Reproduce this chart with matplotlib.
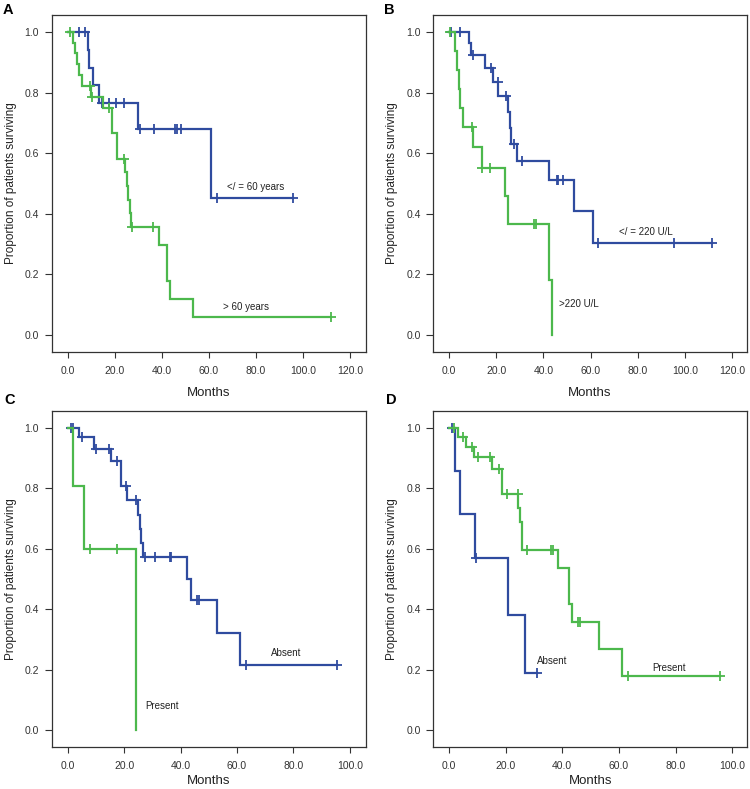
import matplotlib
matplotlib.use("Agg")
import matplotlib.pyplot as plt
import numpy as np

plt.rcParams['font.family'] = ['Liberation Sans', 'DejaVu Sans']

BLUE = '#2f4b9f'
GREEN = '#4cb84c'

# ---------------- Panel A: age ----------------
A_blue_t = [8.6, 9.2, 10.9, 13.3, 29.7, 60.8]
A_blue_s = [0.941, 0.882, 0.824, 0.765, 0.680, 0.453]
A_blue_c = [5.0, 7.2, 14.4, 17.4, 20.5, 23.9, 30.9, 36.7, 45.7, 46.4, 48.2, 63.3, 95.6]
A_green_t = [2.1, 3.2, 3.9, 4.6, 5.9, 9.9, 15.2, 18.8, 20.8, 24.4, 25.1, 25.7, 26.3, 26.9, 38.8, 42.1, 43.6, 53.3]
A_green_s = [0.964, 0.929, 0.893, 0.857, 0.821, 0.785, 0.749, 0.665, 0.580, 0.536, 0.491, 0.446, 0.401, 0.357, 0.297, 0.178, 0.119, 0.059]
A_green_c = [1.1, 9.4, 10.4, 17.6, 24.1, 27.2, 36.1, 111.9]
A_labels = ['</ = 60 years', '> 60 years']
A_label_xy = [(80.0, 0.489), (75.8, 0.093)]

# ---------------- Panel B: LDH ----------------
B_blue_t = [8.5, 9.2, 15.2, 18.8, 20.9, 25.1, 25.8, 26.4, 28.9, 42.4, 53.2, 61.0]
B_blue_s = [0.962, 0.923, 0.881, 0.836, 0.790, 0.736, 0.683, 0.631, 0.575, 0.511, 0.409, 0.305]
B_blue_c = [0.7, 4.8, 10.3, 17.7, 20.6, 24.1, 27.4, 30.9, 45.7, 46.3, 48.2, 63.1, 95.3, 111.7]
B_green_t = [2.5, 3.4, 4.1, 4.8, 6.0, 10.2, 14.0, 23.6, 25.1, 42.3, 43.5]
B_green_s = [0.938, 0.875, 0.813, 0.750, 0.687, 0.621, 0.550, 0.458, 0.367, 0.183, 0.0]
B_green_c = [0.5, 9.8, 14.1, 17.5, 36.2, 36.9]
B_labels = ['</ = 220 U/L', '>220 U/L']
B_label_xy = [(83.4, 0.340), (55.1, 0.102)]

# ---------------- Panel C ----------------
C_blue_t = [4.0, 9.3, 15.2, 18.9, 21.0, 25.0, 25.6, 26.1, 26.8, 42.1, 43.6, 53.0, 60.9]
C_blue_s = [0.968, 0.928, 0.889, 0.806, 0.760, 0.713, 0.664, 0.618, 0.573, 0.500, 0.430, 0.322, 0.215]
C_blue_c = [1.0, 1.9, 5.0, 10.1, 14.6, 17.6, 20.8, 24.2, 27.4, 31.0, 36.1, 36.6, 45.8, 46.6, 63.2, 95.6]
C_green_t = [2.0, 5.9, 24.2]
C_green_s = [0.807, 0.600, 0.0]
C_green_c = [7.8, 17.4]
C_labels = ['Absent', 'Present']
C_label_xy = [(77.3, 0.255), (33.4, 0.080)]

# ---------------- Panel D ----------------
D_blue_t = [2.2, 3.9, 9.1, 20.9, 26.7]
D_blue_s = [0.857, 0.714, 0.571, 0.381, 0.190]
D_blue_c = [1.2, 9.5, 31.2]
D_green_t = [3.1, 5.9, 8.8, 15.3, 18.8, 24.5, 25.2, 25.6, 25.9, 38.5, 42.4, 43.5, 52.9, 60.9]
D_green_s = [0.968, 0.935, 0.902, 0.864, 0.781, 0.735, 0.688, 0.641, 0.596, 0.537, 0.418, 0.357, 0.268, 0.178]
D_green_c = [1.9, 5.1, 8.0, 10.4, 14.5, 17.6, 20.6, 24.2, 27.4, 36.1, 36.8, 45.4, 46.4, 63.3, 95.6]
D_labels = ['Absent', 'Present']
D_label_xy = [(36.4, 0.229), (77.7, 0.206)]


def km_xy(ev_t, ev_s, cens):
    x = [0.0] + list(ev_t)
    y = [1.0] + list(ev_s)
    end = max([x[-1]] + list(cens))
    if y[-1] > 0 and end > x[-1]:
        x.append(end)
        y.append(y[-1])
    return np.array(x), np.array(y)


def surv_at(ev_t, ev_s, t):
    s = 1.0
    for et, es in zip(ev_t, ev_s):
        if et <= t:
            s = es
    return s


W, H = 750, 789
fig = plt.figure(figsize=(W / 100, H / 100), dpi=100)


def px_axes(left, top, right, bottom):
    return fig.add_axes([left / W, 1 - bottom / H, (right - left) / W, (bottom - top) / H])


panels = [
    dict(box=(51.7, 15, 365.7, 351.7), xlim=(-6.8, 126.6), xt=np.arange(0, 121, 20),
         curves=[(A_blue_t, A_blue_s, A_blue_c, BLUE), (A_green_t, A_green_s, A_green_c, GREEN)],
         labels=A_labels, lxy=A_label_xy, letter='A', lpos=(3, 3), xlab_y=-0.104),
    dict(box=(433.3, 15, 746.7, 352), xlim=(-6.65, 126.2), xt=np.arange(0, 121, 20),
         curves=[(B_blue_t, B_blue_s, B_blue_c, BLUE), (B_green_t, B_green_s, B_green_c, GREEN)],
         labels=B_labels, lxy=B_label_xy, letter='B', lpos=(384, 3), xlab_y=-0.104),
    dict(box=(51.7, 410.7, 365.7, 747.3), xlim=(-5.67, 105.6), xt=np.arange(0, 101, 20),
         curves=[(C_blue_t, C_blue_s, C_blue_c, BLUE), (C_green_t, C_green_s, C_green_c, GREEN)],
         labels=C_labels, lxy=C_label_xy, letter='C', lpos=(4, 393), xlab_y=-0.082),
    dict(box=(433.3, 410.7, 747.3, 747.3), xlim=(-5.54, 105.3), xt=np.arange(0, 101, 20),
         curves=[(D_blue_t, D_blue_s, D_blue_c, BLUE), (D_green_t, D_green_s, D_green_c, GREEN)],
         labels=D_labels, lxy=D_label_xy, letter='D', lpos=(386, 393), xlab_y=-0.082),
]

for p in panels:
    ax = px_axes(*p['box'])
    for ev_t, ev_s, cens, col in p['curves']:
        x, y = km_xy(ev_t, ev_s, cens)
        ax.step(x, y, where='post', color=col, lw=1.6, solid_joinstyle='miter')
        cy = [surv_at(ev_t, ev_s, c) for c in cens]
        ax.plot(cens, cy, linestyle='none', marker='+', ms=7, mew=1.3, color=col)
    for txt, (tx, ty) in zip(p['labels'], p['lxy']):
        ax.text(tx, ty, txt, ha='center', va='center', fontsize=7, color='#222222')
    ax.set_xlim(*p['xlim'])
    ax.set_ylim(-0.056, 1.056)
    ax.set_xticks(p['xt'])
    ax.set_xticklabels(['%.1f' % v for v in p['xt']])
    ax.set_yticks(np.arange(0, 1.01, 0.2))
    ax.set_yticklabels(['%.1f' % v for v in np.arange(0, 1.01, 0.2)])
    ax.tick_params(axis='both', labelsize=7.5, colors='#333333', width=0.8)
    ax.tick_params(axis='x', length=4, pad=6)
    ax.tick_params(axis='y', length=5, pad=4)
    for sp in ax.spines.values():
        sp.set_color('#333333')
        sp.set_linewidth(0.9)
    ax.set_xlabel('Months', fontsize=9.5, color='#222222', va='top')
    ax.xaxis.set_label_coords(0.5, p['xlab_y'])
    ax.set_ylabel('Proportion of patients surviving', fontsize=8.5, color='#222222')
    ax.yaxis.set_label_coords(-0.112, 0.5)
    fig.text(p['lpos'][0] / W, 1 - p['lpos'][1] / H, p['letter'], fontsize=10.5,
             fontweight='bold', ha='left', va='top')

fig.savefig('out.png', dpi=100)
